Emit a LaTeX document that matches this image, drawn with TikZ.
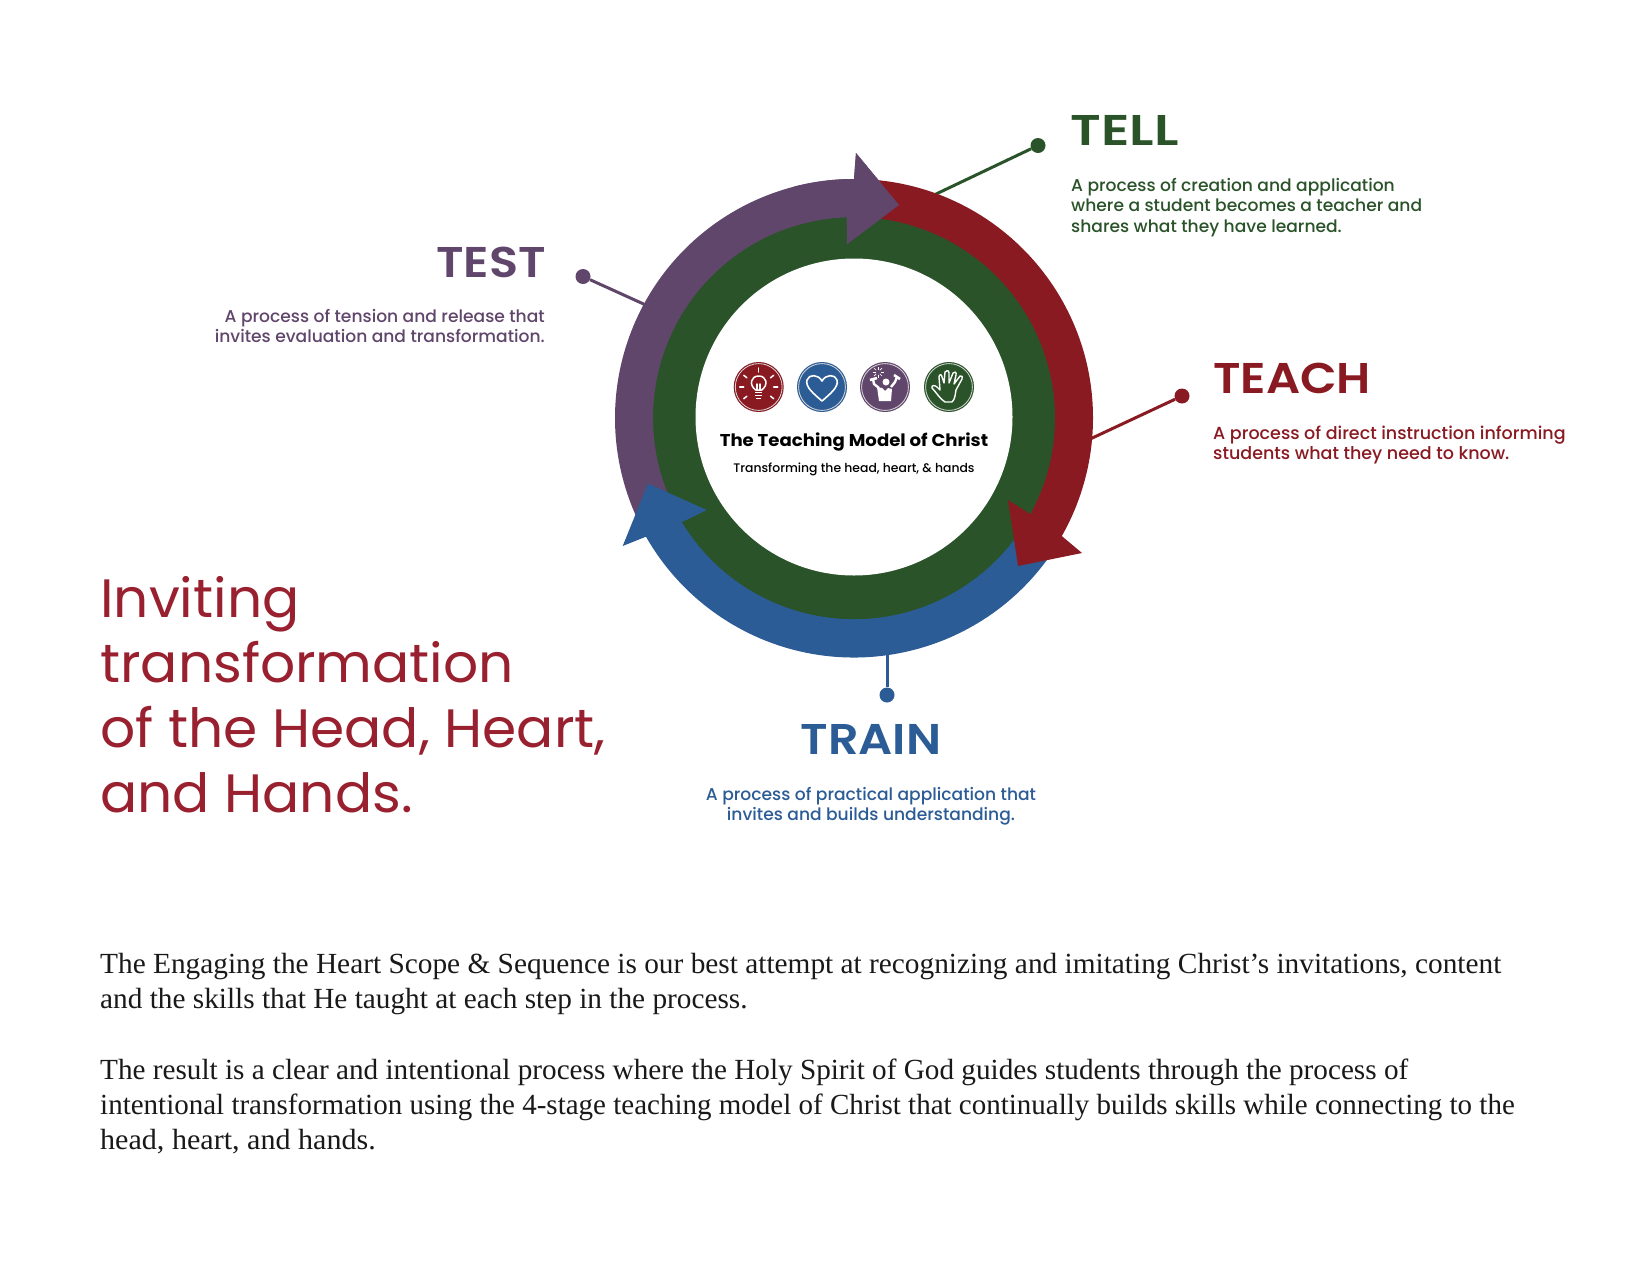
\documentclass[tikz,border=0pt]{standalone}
\usepackage{fontspec}
\usetikzlibrary{calc}
\setmainfont{Liberation Serif}
\newfontfamily\mont[FakeStretch=1.02]{Poppins}
\newfontfamily\montm{Poppins Medium}
\newfontfamily\monts[FakeStretch=1.11]{Poppins SemiBold}
\newfontfamily\montw[FakeStretch=1.24]{Poppins SemiBold}
\newfontfamily\montb[FakeStretch=1.06]{Poppins Bold}
\definecolor{cred}{HTML}{8A1A22}
\definecolor{cgreen}{HTML}{2A5329}
\definecolor{cpurple}{HTML}{61466C}
\definecolor{cblue}{HTML}{2C5C95}
\definecolor{ctitle}{HTML}{98202F}
\tikzset{
  conn/.style={line width=3pt},
  dot/.style={circle,fill,inner sep=0pt,minimum size=15pt},
  stagehead/.style={font=\monts\fontsize{43}{43}\selectfont,inner sep=0pt},
  stagetext/.style={font=\montm\fontsize{17.1}{20.5}\selectfont,inner sep=0pt},
  badge/.style={circle,minimum size=50pt,inner sep=0pt},
  iconline/.style={white,line width=1.5pt,line cap=round,line join=round},
  bodytext/.style={font=\fontsize{29.2}{35}\selectfont,text=black!90,align=left,anchor=north west,inner sep=0pt},
}
\newcommand{\purplearrow}{(205:239pt) arc[start angle=205,end angle=90,radius=239pt] -- (856-854,418-153) -- (899-854,418-205) -- (847-854,418-244) -- (92:201pt) arc[start angle=92,end angle=205,radius=201pt] -- cycle}
\newcommand{\bodyline}[2]{{\addfontfeatures{FakeStretch=#1}#2}}
\begin{document}
\begin{tikzpicture}[x=1pt,y=1pt]
\useasboundingbox (0,0) rectangle (1650,-1275);
\fill[white] (0,0) rectangle (1650,-1275);
% connectors
\node[dot,fill=cgreen] (telld) at (1038,-145.5) {};
\node[dot,fill=cpurple] (testd) at (583,-276.5) {};
\node[dot,fill=cred] (teachd) at (1182,-396) {};
\node[dot,fill=cblue] (traind) at (887,-695) {};
\coordinate (tellr) at (934,-195);
\coordinate (testr) at (648,-306);
\coordinate (teachr) at (1088,-440);
\coordinate (trainr) at (887,-650);
\draw[conn,cgreen] (telld) -- (tellr);
\draw[conn,cpurple] (testd) -- (testr);
\draw[conn,cred] (teachd) -- (teachr);
\draw[conn,cblue] (traind) -- (trainr);
% ring
\fill[cgreen] (854,-417) circle[radius=203pt];
\fill[white] (854,-417) circle[radius=158.5pt];
\begin{scope}[shift={(854,-418)}]
\fill[cpurple] \purplearrow;
\fill[cblue] (-33:239.5pt) arc[start angle=-33,end angle=-150.3,radius=239.5pt] -- (622.7-854,418-546) -- (648-854,418-483.6) -- (706.7-854,418-510) -- (-148.8:201pt) arc[start angle=-148.8,end angle=-33,radius=201pt] -- cycle;
\fill[cgreen] (-148.8:201pt) arc[start angle=-148.8,end angle=-33,radius=201pt] -- (-33:198pt) arc[start angle=-33,end angle=-148.8,radius=198pt] -- cycle;
\fill[cred] (88:239pt) arc[start angle=88,end angle=-29.6,radius=239pt] -- (1082-854,418-553) -- (1018-854,418-566) -- (1008-854,418-500) -- (-28.6:201pt) arc[start angle=-28.6,end angle=88,radius=201pt] -- cycle;
\begin{scope}
\clip (-60,100) rectangle (100,300);
\fill[cpurple] \purplearrow;
\end{scope}
\end{scope}
% badges
\node[badge,fill=cred] (b1) at (758.7,-387) {};
\node[badge,fill=cblue] (b2) at (822,-387) {};
\node[badge,fill=cpurple] (b3) at (885,-387) {};
\node[badge,fill=cgreen] (b4) at (949,-387) {};
\foreach \b in {b1,b2,b3,b4} \draw[white!85!black,line width=.8pt] (\b) circle[radius=23.4pt];
% bulb
\begin{scope}[shift={(b1.center)}]
\draw[iconline] (-3,-3) .. controls (-10,2) and (-8,11) .. (0,11) .. controls (8,11) and (10,2) .. (3,-3) -- cycle;
\draw[iconline] (-1.5,-3) -- (-1.5,3) (1.5,-3) -- (1.5,3);
\draw[white,line width=1.6pt] (-3.5,-5.5) -- (3.5,-5.5) (-3.5,-8.5) -- (3.5,-8.5) (-2.5,-11.5) -- (2.5,-11.5);
\foreach \a in {0,38,90,142,180,-38,218} \draw[iconline] (\a:15pt) -- (\a:19pt);
\end{scope}
% heart
\begin{scope}[shift={(b2.center)}]
\draw[white,line width=1.6pt,line join=round] (0,-14) .. controls (-8,-7) and (-17,0) .. (-15,7) .. controls (-13,13) and (-4,13) .. (0,6) .. controls (4,13) and (13,13) .. (15,7) .. controls (17,0) and (8,-7) .. (0,-14) -- cycle;
\end{scope}
% person
\begin{scope}[shift={(b3.center)}]
\fill[white] (1,5) circle[radius=3.5pt];
\fill[white] (-6,-14) -- (6,-14) -- (7,-2) -- (3,-1) -- (0,-4) -- (-3,-1) -- (-8,0) -- cycle;
\draw[white,line width=2.4pt,line join=round] (-6,-1) -- (-11,3) -- (-12,8);
\draw[white,line width=2.4pt,line join=round] (6,0) -- (10,5) -- (12,10);
\draw[white,line width=2.6pt] (-15,7) -- (-8,9);
\draw[white,line width=2.6pt] (9,12) -- (15,8);
\foreach \a in {0,45,...,315} \draw[white,line width=.7pt] ($(-7,15)+(\a:2.5pt)$) -- ($(-7,15)+(\a:5.5pt)$);
\end{scope}
% hand
\begin{scope}[shift={(b4.center)}]
\draw[white,line width=1.4pt,line join=round,line cap=round] (-4,-15) .. controls (-9,-12) and (-13,-5) .. (-17,-1) .. controls (-18,2) and (-14,2) .. (-12,0) -- (-9,-3) -- (-10,10) .. controls (-10,13) and (-7,13) .. (-7,10) -- (-5,4) -- (-4,15) .. controls (-3,17) and (0,17) .. (0,14) -- (0,4) -- (4,14) .. controls (5,16) and (8,15) .. (7,12) -- (5,3) -- (11,11) .. controls (13,12) and (14,10) .. (13,8) -- (7,-3) .. controls (6,-9) and (6,-12) .. (3,-15) -- cycle;
\end{scope}
% centre texts
\node[font=\montb\fontsize{17.1}{18}\selectfont,inner sep=0pt,anchor=base] (ct) at (854,-446) {The Teaching Model of Christ};
\node[font=\montm\fontsize{12.4}{14}\selectfont,inner sep=0pt,anchor=base] (cs) at (854,-472) {Transforming the head, heart, \& hands};
% stage labels
\node[stagehead,font=\montw\fontsize{43}{43}\selectfont,text=cgreen,anchor=base west] (tell) at (1070.5,-145) {TELL};
\node[stagetext,text=cgreen,align=left,anchor=north west] (tellt) at (1071,-178) {A process of creation and application\\where a student becomes a teacher and\\shares what they have learned.};
\node[stagehead,text=cpurple,anchor=base east] (test) at (546,-277) {TEST};
\node[stagetext,text=cpurple,align=right,anchor=north east] (testt) at (545,-309) {A process of tension and release that\\invites evaluation and transformation.};
\node[stagehead,text=cred,anchor=base west] (teach) at (1213,-393) {TEACH};
\node[stagetext,font=\montm\fontsize{17.5}{20.5}\selectfont,text=cred,align=left,anchor=north west] (teacht) at (1213,-425.5) {A process of direct instruction informing\\students what they need to know.};
\node[stagehead,text=cblue,anchor=base] (train) at (871,-754) {TRAIN};
\node[stagetext,text=cblue,align=center,anchor=north] (traint) at (871,-787) {A process of practical application that\\invites and builds understanding.};
% title
\node[font=\mont\fontsize{54}{65}\selectfont,text=ctitle,align=left,anchor=north west,inner sep=0pt] (title) at (100,-576) {Inviting\\transformation\\of the Head, Heart,\\and Hands.};
% body
\node[bodytext] (p1) at (100,-953.5) {\bodyline{1.0045}{The Engaging the Heart Scope \& Sequence is our best attempt at recognizing and imitating Christ’s invitations, content}\\\bodyline{1.003}{and the skills that He taught at each step in the process.}};
\node[bodytext] (p2) at (100,-1059) {The result is a clear and intentional process where the Holy Spirit of God guides students through the process of\\\bodyline{0.9933}{intentional transformation using the 4-stage teaching model of Christ that continually builds skills while connecting to the}\\\bodyline{1.03}{head, heart, and hands.}};
\end{tikzpicture}
\end{document}
